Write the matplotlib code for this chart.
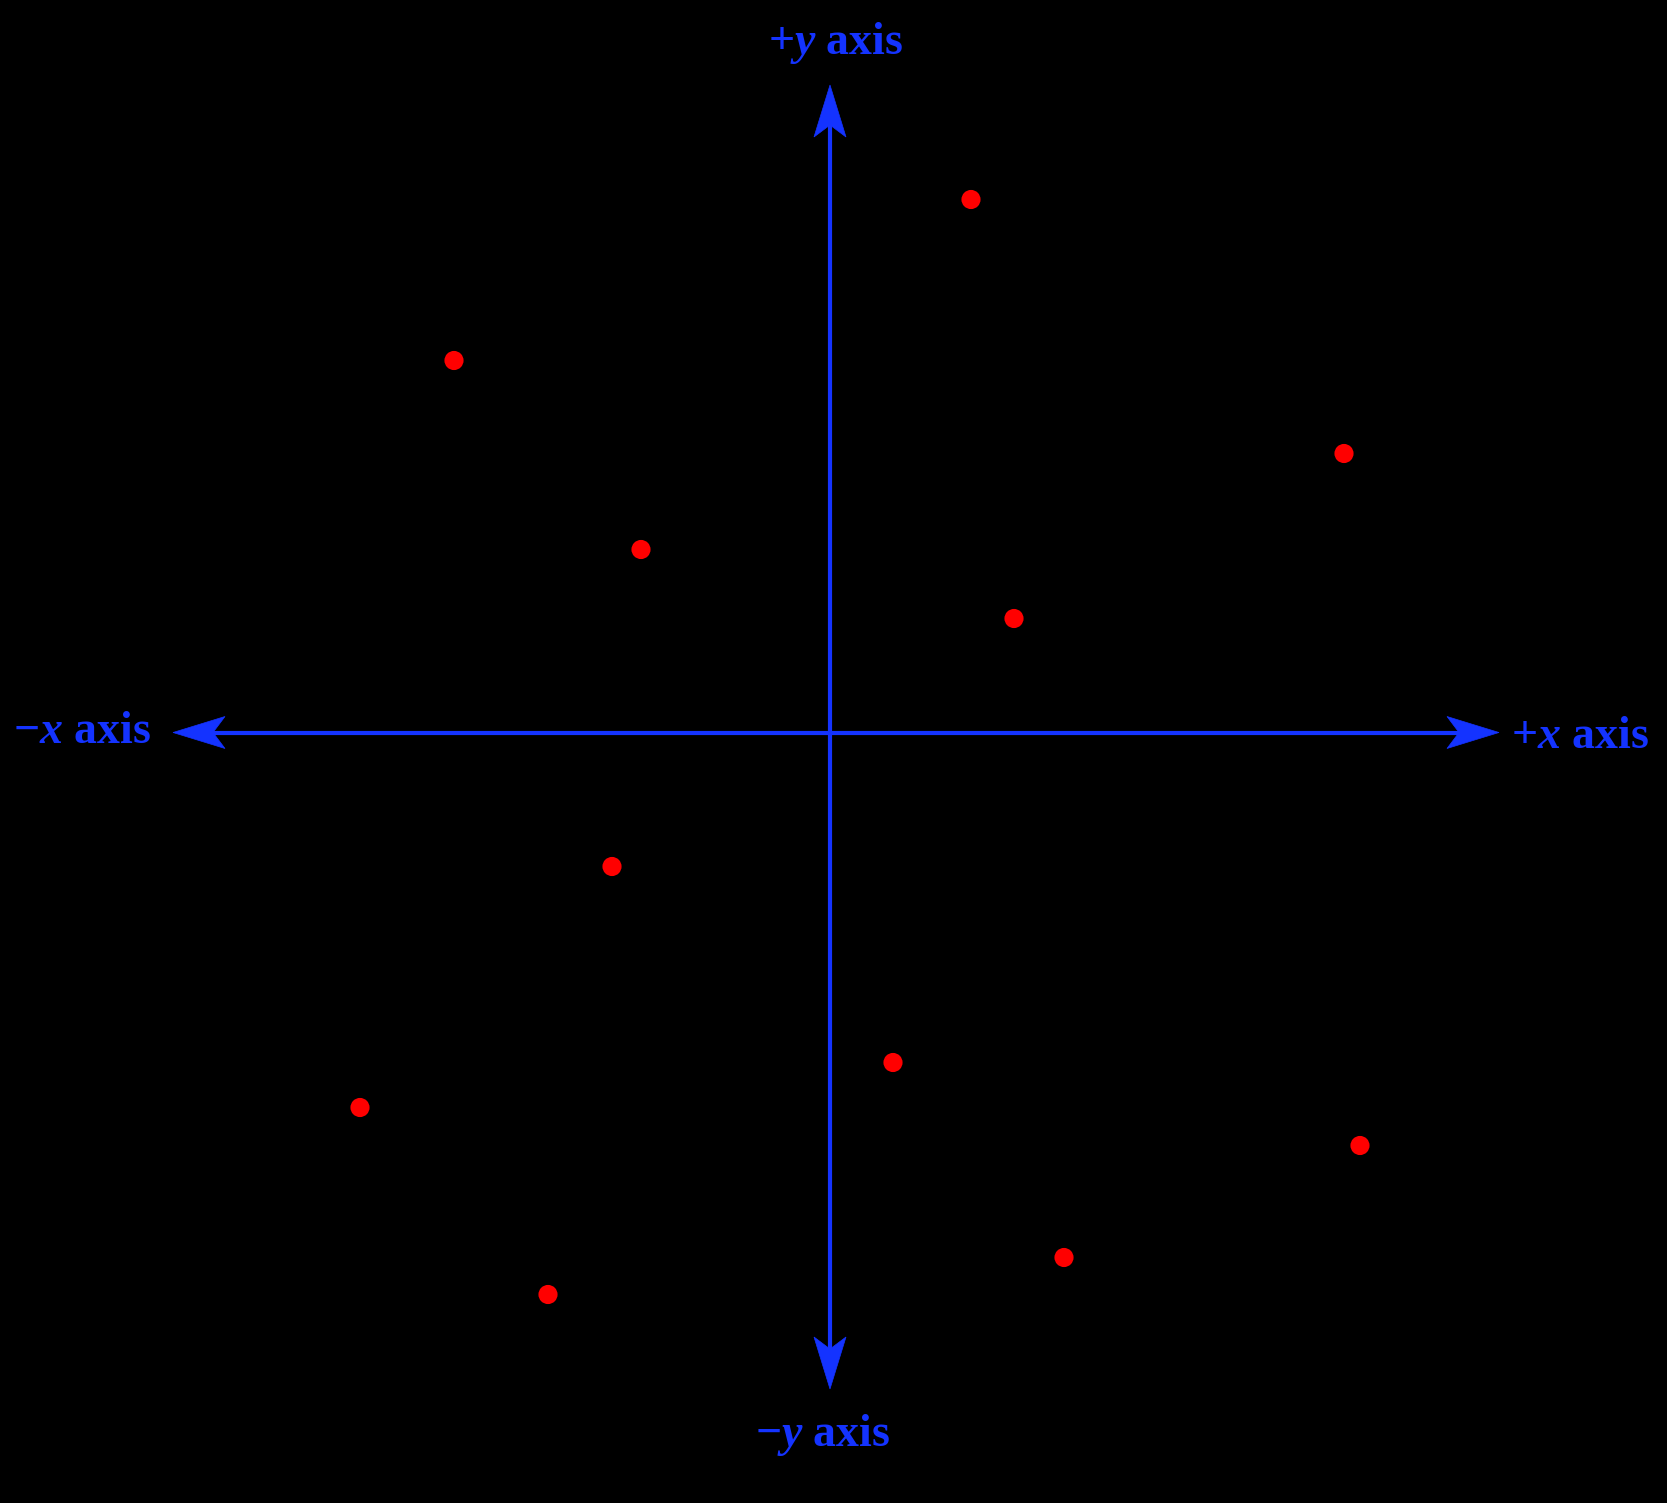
import matplotlib
matplotlib.use("Agg")
import matplotlib.pyplot as plt
from matplotlib.patches import Polygon
import numpy as np

# Point data (arbitrary units, origin at axis crossing)
pt_x = [1.41, -3.76, 5.14, -1.89, 1.84, -2.18, 0.63, -4.70, 5.30, 2.34, -2.82]
pt_y = [5.33, 3.72, 2.79, 1.83, 1.14, -1.34, -3.30, -3.75, -4.13, -5.25, -5.62]

BLUE = "#1433ff"
RED = "#ff0000"

plt.rcParams['mathtext.fontset'] = 'custom'
plt.rcParams['mathtext.rm'] = 'Liberation Serif:bold'
plt.rcParams['mathtext.it'] = 'Liberation Serif:italic:bold'
plt.rcParams['mathtext.bf'] = 'Liberation Serif:bold'

fig = plt.figure(figsize=(16.67, 15.03), dpi=100, facecolor="black")
ax = fig.add_axes([0, 0, 1, 1])
ax.set_facecolor("black")
ax.set_xlim(-8.30, 8.37)
ax.set_ylim(-7.705, 7.325)
ax.axis("off")

# axis extents
x_left, x_right = -6.57, 6.69
y_top, y_bot = 6.475, -6.565

ax.plot([x_left + 0.3, x_right - 0.3], [0, 0], color=BLUE, lw=3.0, solid_capstyle="butt", zorder=2)
ax.plot([0, 0], [y_bot + 0.3, y_top - 0.3], color=BLUE, lw=3.0, solid_capstyle="butt", zorder=2)

def head(tip, direction):
    L, W, N = 0.52, 0.16, 0.40
    d = np.array(direction, float)
    p = np.array([-d[1], d[0]])
    t = np.array(tip, float)
    pts = [t, t - L * d + W * p, t - N * d, t - L * d - W * p]
    ax.add_patch(Polygon(pts, closed=True, facecolor=BLUE, edgecolor=BLUE, lw=0.5, zorder=3))

head((x_right, 0), (1, 0))
head((x_left, 0), (-1, 0))
head((0, y_top), (0, 1))
head((0, y_bot), (0, -1))

ax.scatter(pt_x, pt_y, s=190, color=RED, edgecolors="none", zorder=4)

fs = 33
def lab(x, y, sign, var):
    ax.text(x, y, r"$%s\mathit{%s}$ axis" % (sign, var), color=BLUE, fontsize=fs,
            fontfamily="Liberation Serif", fontweight="bold", ha="center", va="center")

lab(0.06, 6.895, "+", "y")
lab(-7.48, 0.005, "-", "x")
lab(7.50, -0.05, "+", "x")
lab(-0.07, -7.02, "-", "y")

fig.savefig("out.png", dpi=100, facecolor="black")
